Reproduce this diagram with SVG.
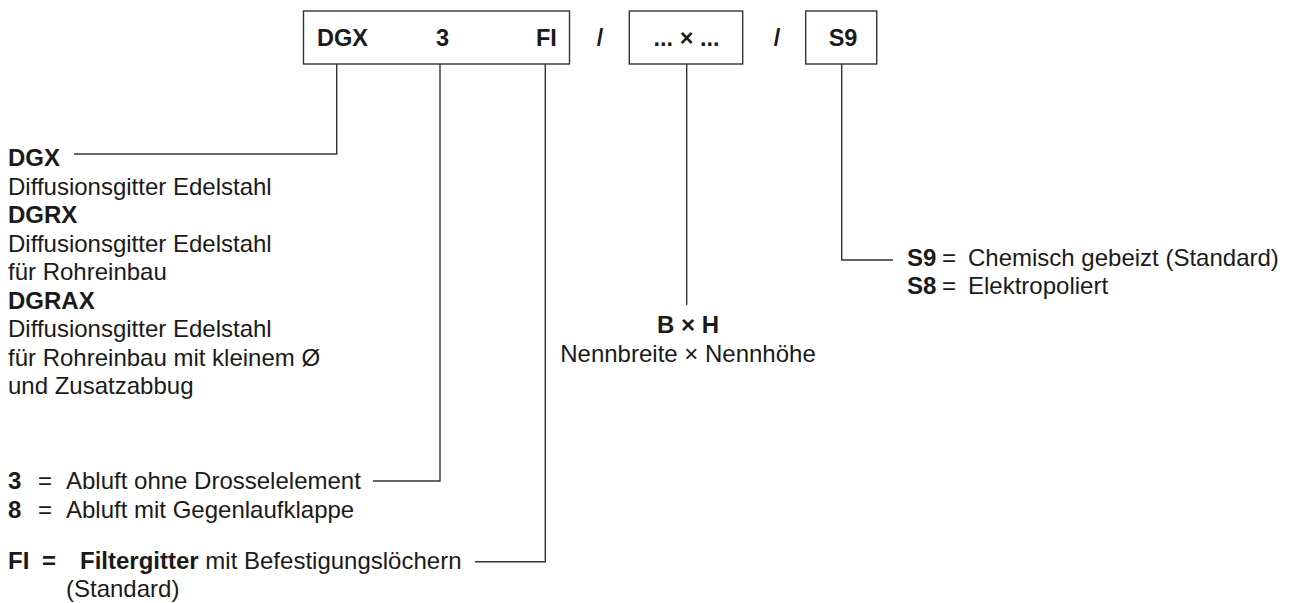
<svg xmlns="http://www.w3.org/2000/svg" width="1290" height="603" viewBox="0 0 1290 603">
<style>
text{font-family:"Liberation Sans",Arial,sans-serif;font-size:24px;fill:#1a1a1a}
.b{font-weight:bold}
.bx{font-weight:bold;font-size:23.5px}
.box{fill:#fff;stroke:#333;stroke-width:1.4}
.ln{fill:none;stroke:#333;stroke-width:1.4}
</style>
<rect width="1290" height="603" fill="#fff"/>
<g id="connectors">
<polyline class="ln" points="74,154 336.7,154 336.7,64"/>
<polyline class="ln" points="373,481 440,481 440,64"/>
<polyline class="ln" points="475,561.7 545.3,561.7 545.3,64"/>
<polyline class="ln" points="686.7,64 686.7,305"/>
<polyline class="ln" points="841.7,64 841.7,260 893,260"/>
</g>
<g id="box-main">
<rect class="box" x="303.5" y="11" width="266" height="53"/>
<text class="bx" x="317" y="45.5">DGX</text>
<text class="bx" x="436" y="45.5">3</text>
<text class="bx" x="536" y="45.5">FI</text>
</g>
<g id="slash1"><text class="bx" x="600" y="45.5" text-anchor="middle">/</text></g>
<g id="box-size">
<rect class="box" x="629.3" y="11" width="113.4" height="53"/>
<text class="bx" x="686.5" y="45.5" text-anchor="middle">... × ...</text>
</g>
<g id="slash2"><text class="bx" x="777" y="45.5" text-anchor="middle">/</text></g>
<g id="box-s9">
<rect class="box" x="805.7" y="11" width="71" height="53"/>
<text class="bx" x="843" y="45.5" text-anchor="middle">S9</text>
</g>
<g id="label-type">
<text class="b" x="8" y="166">DGX</text>
<text x="8" y="194.5">Diffusionsgitter Edelstahl</text>
<text class="b" x="8" y="223">DGRX</text>
<text x="8" y="251.5">Diffusionsgitter Edelstahl</text>
<text x="8" y="280">für Rohreinbau</text>
<text class="b" x="8" y="308.5">DGRAX</text>
<text x="8" y="337">Diffusionsgitter Edelstahl</text>
<text x="8" y="365.5">für Rohreinbau mit kleinem Ø</text>
<text x="8" y="394">und Zusatzabbug</text>
</g>
<g id="label-function">
<text class="b" x="8" y="489">3</text><text x="38" y="489">=</text><text x="66" y="489">Abluft ohne Drosselelement</text>
<text class="b" x="8" y="517.5">8</text><text x="38" y="517.5">=</text><text x="66" y="517.5">Abluft mit Gegenlaufklappe</text>
</g>
<g id="label-filter">
<text class="b" x="8" y="569">FI</text><text class="b" x="42" y="569">=</text><text x="80" y="569"><tspan class="b">Filtergitter</tspan> mit Befestigungslöchern</text>
<text x="66" y="597">(Standard)</text>
</g>
<g id="label-size">
<text class="b" x="688" y="333" text-anchor="middle">B × H</text>
<text x="688" y="362" text-anchor="middle">Nennbreite × Nennhöhe</text>
</g>
<g id="label-surface">
<text class="b" x="907" y="266">S9</text><text x="942" y="266">=</text><text x="968" y="266">Chemisch gebeizt (Standard)</text>
<text class="b" x="907" y="294">S8</text><text x="942" y="294">=</text><text x="968" y="294">Elektropoliert</text>
</g>
</svg>
